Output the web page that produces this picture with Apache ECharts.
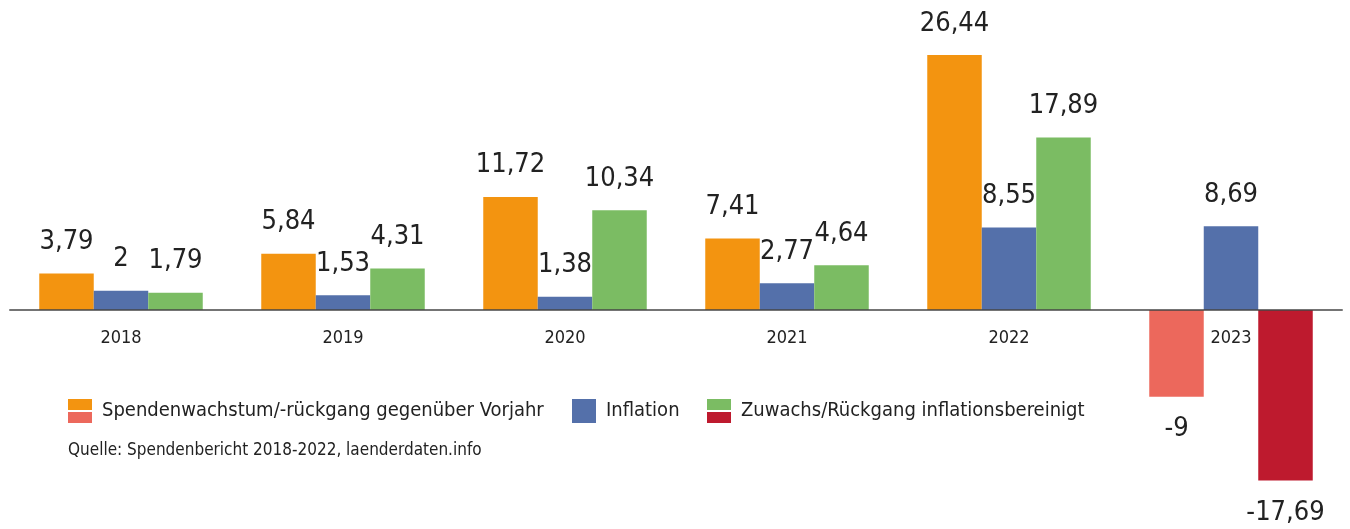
<!DOCTYPE html>
<html>
<head>
<meta charset="utf-8">
<script src="https://cdn.jsdelivr.net/npm/echarts@6/dist/echarts.min.js"></script>
<style>
  html, body { margin: 0; padding: 0; background: #fff; }
  #main { width: 1350px; height: 529px; }
</style>
</head>
<body>
<div id="main"></div>
<script>
const years = ["2018", "2019", "2020", "2021", "2022", "2023"];
const spenden = [3.79, 5.84, 11.72, 7.41, 26.44, -9];
const inflation = [2, 1.53, 1.38, 2.77, 8.55, 8.69];
const bereinigt = [1.79, 4.31, 10.34, 4.64, 17.89, -17.69];

const FONT = '"DejaVu Sans Condensed", "DejaVu Sans", sans-serif';
const ORANGE = "#f39410", LIGHTRED = "#ec685c";
const BLUE = "#5470aa";
const GREEN = "#7bbc63", DARKRED = "#be1a2e";

const Y_MIN = -20, Y_MAX = 30;
const GRID_TOP = 20.65, GRID_H = 482.25;
// push the category axis up from the grid bottom to the zero line
const zeroOffset = GRID_H * (0 - Y_MIN) / (Y_MAX - Y_MIN);

function split(top, bottom) {
  return {
    type: "linear", x: 0, y: 0, x2: 0, y2: 1,
    colorStops: [
      { offset: 0, color: top }, { offset: 0.47, color: top },
      { offset: 0.47, color: "#fff" }, { offset: 0.53, color: "#fff" },
      { offset: 0.53, color: bottom }, { offset: 1, color: bottom }
    ]
  };
}

function fmt(p) {
  return String(p.value).replace(".", ",");
}

function makeSeries(name, values, pos, neg) {
  return {
    name: name,
    type: "bar",
    barWidth: 54.5,
    barGap: "0%",
    itemStyle: { color: neg ? split(pos, neg) : pos },
    data: values.map(v => ({
      value: v,
      itemStyle: { color: v < 0 && neg ? neg : pos },
      label: v < 0 ? { position: "bottom", distance: 19 } : undefined
    })),
    label: {
      show: true,
      position: "top",
      distance: 18,
      formatter: fmt,
      fontFamily: FONT,
      fontSize: 27,
      color: "#222"
    }
  };
}

const chart = echarts.init(document.getElementById("main"));

const legendBase = {
  top: 399,
  padding: 0,
  itemWidth: 24,
  itemHeight: 24,
  icon: "rect",
  textStyle: { fontFamily: FONT, fontSize: 20, color: "#222", padding: [0, 0, 0, 5] }
};

chart.setOption({
  animation: false,
  grid: {
    left: 10, right: 8, top: GRID_TOP, height: GRID_H,
    outerBoundsMode: "none"
  },
  xAxis: {
    type: "category",
    data: years,
    z: 5,
    offset: -zeroOffset,
    axisLine: { onZero: false, lineStyle: { color: "rgba(70,70,70,0.75)", width: 2 } },
    axisTick: { show: false },
    axisLabel: { fontFamily: FONT, fontSize: 18, color: "#222", margin: 19 }
  },
  yAxis: {
    type: "value",
    min: Y_MIN,
    max: Y_MAX,
    show: false,
    splitLine: { show: false }
  },
  legend: [
    Object.assign({ left: 68, data: ["Spendenwachstum/-rückgang gegenüber Vorjahr"] }, legendBase),
    Object.assign({ left: 572, data: ["Inflation"] }, legendBase),
    Object.assign({ left: 707, data: ["Zuwachs/Rückgang inflationsbereinigt"] }, legendBase)
  ],
  graphic: [{
    type: "text",
    left: 68,
    top: 442,
    style: {
      text: "Quelle: Spendenbericht 2018-2022, laenderdaten.info",
      fontFamily: FONT,
      fontSize: 17,
      fill: "#222"
    }
  }],
  series: [
    makeSeries("Spendenwachstum/-rückgang gegenüber Vorjahr", spenden, ORANGE, LIGHTRED),
    makeSeries("Inflation", inflation, BLUE, null),
    makeSeries("Zuwachs/Rückgang inflationsbereinigt", bereinigt, GREEN, DARKRED)
  ]
});
</script>
</body>
</html>
